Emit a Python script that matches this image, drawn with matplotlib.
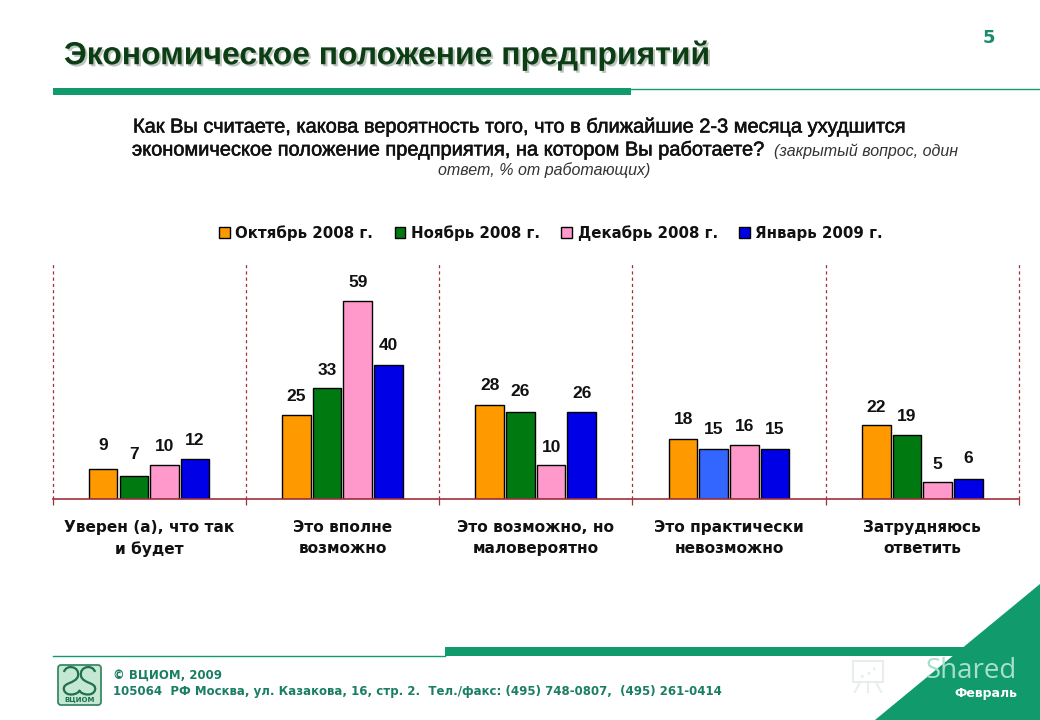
import matplotlib
matplotlib.use("Agg")
import matplotlib.pyplot as plt
import matplotlib.patheffects as pe
from matplotlib.patches import Polygon, Rectangle, FancyBboxPatch, PathPatch
from matplotlib.path import Path
import numpy as np

categories = ["Уверен (а), что так\nи будет", "Это вполне\nвозможно", "Это возможно, но\nмаловероятно",
              "Это практически\nневозможно", "Затрудняюсь\nответить"]
series_names = ["Октябрь 2008 г.", "Ноябрь 2008 г.", "Декабрь 2008 г.", "Январь 2009 г."]
oct_2008 = [9, 25, 28, 18, 22]
nov_2008 = [7, 33, 26, 15, 19]
dec_2008 = [10, 59, 10, 16, 5]
jan_2009 = [12, 40, 26, 15, 6]

series = [oct_2008, nov_2008, dec_2008, jan_2009]
colors = ["#FF9900", "#007A10", "#FF99CC", "#0000E6"]
label_offsets_px = [[23, 19, 19, 19, 18], [21, 18, 20, 19, 19], [19, 18, 18, 19, 18], [18, 19, 18, 19, 20]]

GREEN = "#119A6C"
RED = "#A0303C"
W, H = 1040, 720

fig = plt.figure(figsize=(W / 100, H / 100), dpi=100, facecolor="white")

# page furniture in pixel coordinates
bg = fig.add_axes([0, 0, 1, 1])
bg.set_xlim(0, W)
bg.set_ylim(H, 0)
bg.axis("off")

bg.add_patch(Rectangle((53, 88), 578, 7, fc=GREEN, ec="none"))
bg.plot([631, 1040], [88.5, 88.5], color=GREEN, lw=1)
bg.plot([53, 445], [655.5, 655.5], color=GREEN, lw=1)
bg.add_patch(Rectangle((445, 647), 519, 9, fc=GREEN, ec="none"))
bg.add_patch(Polygon([(1040, 584), (1040, 720), (875, 720)], closed=True, fc=GREEN, ec="none"))

bg.text(64, 56, "Экономическое положение предприятий", family="Liberation Sans", weight="bold",
        fontsize=23, color="#0C3D14", ha="left", va="center",
        path_effects=[pe.withSimplePatchShadow(offset=(1.5, -1.5), shadow_rgbFace="#8A9A8A", alpha=0.55)])
bg.text(989, 38, "5", family="DejaVu Sans", weight="bold", fontsize=13, color="#1A8A70", ha="center", va="center")

semi = [pe.withStroke(linewidth=0.4, foreground="#111111")]
bg.text(133, 127, "Как Вы считаете, какова вероятность того, что в ближайшие 2-3 месяца ухудшится",
        family="Liberation Sans", fontsize=14.4, color="#111111", ha="left", va="center", path_effects=semi)
bg.text(132, 150, "экономическое положение предприятия, на котором Вы работаете?",
        family="Liberation Sans", fontsize=14.4, color="#111111", ha="left", va="center", path_effects=semi)
bg.text(774, 151, "(закрытый вопрос, один", family="Liberation Sans", style="italic", fontsize=11.5,
        color="#333333", ha="left", va="center")
bg.text(544, 170, "ответ, % от работающих)", family="Liberation Sans", style="italic", fontsize=11.5,
        color="#333333", ha="center", va="center")

bg.text(113, 675, "© ВЦИОМ, 2009", family="DejaVu Sans", weight="bold", fontsize=8.5, color="#1A7F62", va="center")
bg.text(113, 692, "105064  РФ Москва, ул. Казакова, 16, стр. 2.  Тел./факс: (495) 748-0807,  (495) 261-0414",
        family="DejaVu Sans", weight="bold", fontsize=8.5, color="#1A7F62", va="center")

# logo
bg.add_patch(FancyBboxPatch((59, 666), 41, 38, boxstyle="round,pad=1,rounding_size=3", fc="#C4E8D2", ec="#2E7F5E", lw=1.2))
for d in [((64, 672), (66, 664), (80, 666), (78, 676), (76, 684), (62, 682), (64, 690), (66, 697), (78, 695), (80, 690)),
          ((95, 672), (93, 664), (79, 666), (81, 676), (83, 684), (97, 682), (95, 690), (93, 697), (81, 695), (79, 690))]:
    codes = [Path.MOVETO] + [Path.CURVE4] * 9
    bg.add_patch(PathPatch(Path(d, codes), fc="none", ec="#1F6F50", lw=1.6))
bg.text(79.5, 699.5, "ВЦИОМ", family="DejaVu Sans", weight="bold", fontsize=5, color="#1F6F50", ha="center", va="center")

# watermark
bg.text(1017, 671, "Shared", family="Open Sans", fontsize=20, color="#A9DFCB", ha="right", va="center")
bg.text(1017, 694, "Февраль", family="DejaVu Sans", weight="bold", fontsize=9, color="white", ha="right", va="center")
wm = "#E8EFEB"
bg.add_patch(Rectangle((853, 661), 30, 21, fc="none", ec=wm, lw=1.5))
bg.plot([860, 855], [682, 692], color=wm, lw=1.5)
bg.plot([876, 881], [682, 692], color=wm, lw=1.5)
bg.plot([868, 868], [682, 692], color=wm, lw=1.5)
bg.plot([861, 868, 875], [677, 674, 668], color=wm, lw=2, ls=":")

# chart
ax = fig.add_axes([52.5 / W, 1 - 499 / H, (1019 - 52.5) / W, (499 - 264) / H])
ax.patch.set_alpha(0)
ax.set_xlim(-0.5, 4.5)
ax.set_ylim(0, 70)
x = np.arange(len(categories))
step, width = 0.1585, 0.148
for i, (vals, col, name) in enumerate(zip(series, colors, series_names)):
    bars = ax.bar(x + (i - 1.5) * step, vals, width, color=col, edgecolor="black", linewidth=1, label=name, zorder=3)
    for b, v, off in zip(bars, vals, label_offsets_px[i]):
        ax.annotate(str(v), (b.get_x() + b.get_width() / 2, v), xytext=(0, off), textcoords="offset pixels",
                    ha="center", va="center", family="Liberation Sans", weight="bold", fontsize=12.5, color="#111111")
    if i == 1:
        bars[3].set_facecolor("#3366FF")

for s in ["top", "left", "right"]:
    ax.spines[s].set_visible(False)
ax.spines["bottom"].set_color(RED)
ax.spines["bottom"].set_linewidth(1.2)
ax.spines["bottom"].set_zorder(4)
ax.set_yticks([])
bounds = np.arange(len(categories) + 1) - 0.5
for b in bounds:
    ax.axvline(b, color=RED, lw=0.9, ls=(0, (2.5, 2.5)), zorder=1, clip_on=False)
ax.set_xticks(bounds, minor=True)
ax.tick_params(axis="x", which="minor", length=4.5, width=0.9, color=RED)
ax.set_xticks(x, categories, family="DejaVu Sans", weight="bold", fontsize=11.1, color="#111111", linespacing=1.5)
ax.tick_params(axis="x", which="major", length=0, pad=15)

leg = ax.legend(ncol=4, loc="center left", bbox_to_anchor=((219 - 52.5) / (1019 - 52.5), (499 - 233) / (499 - 264)),
                frameon=False, prop={"family": "DejaVu Sans", "weight": "bold", "size": 10.8},
                handlelength=0.72, handleheight=0.72, handletextpad=0.35, columnspacing=1.45, borderpad=0, borderaxespad=0)
for t in leg.get_texts():
    t.set_color("#111111")

fig.savefig("out.png", dpi=100, facecolor="white")
